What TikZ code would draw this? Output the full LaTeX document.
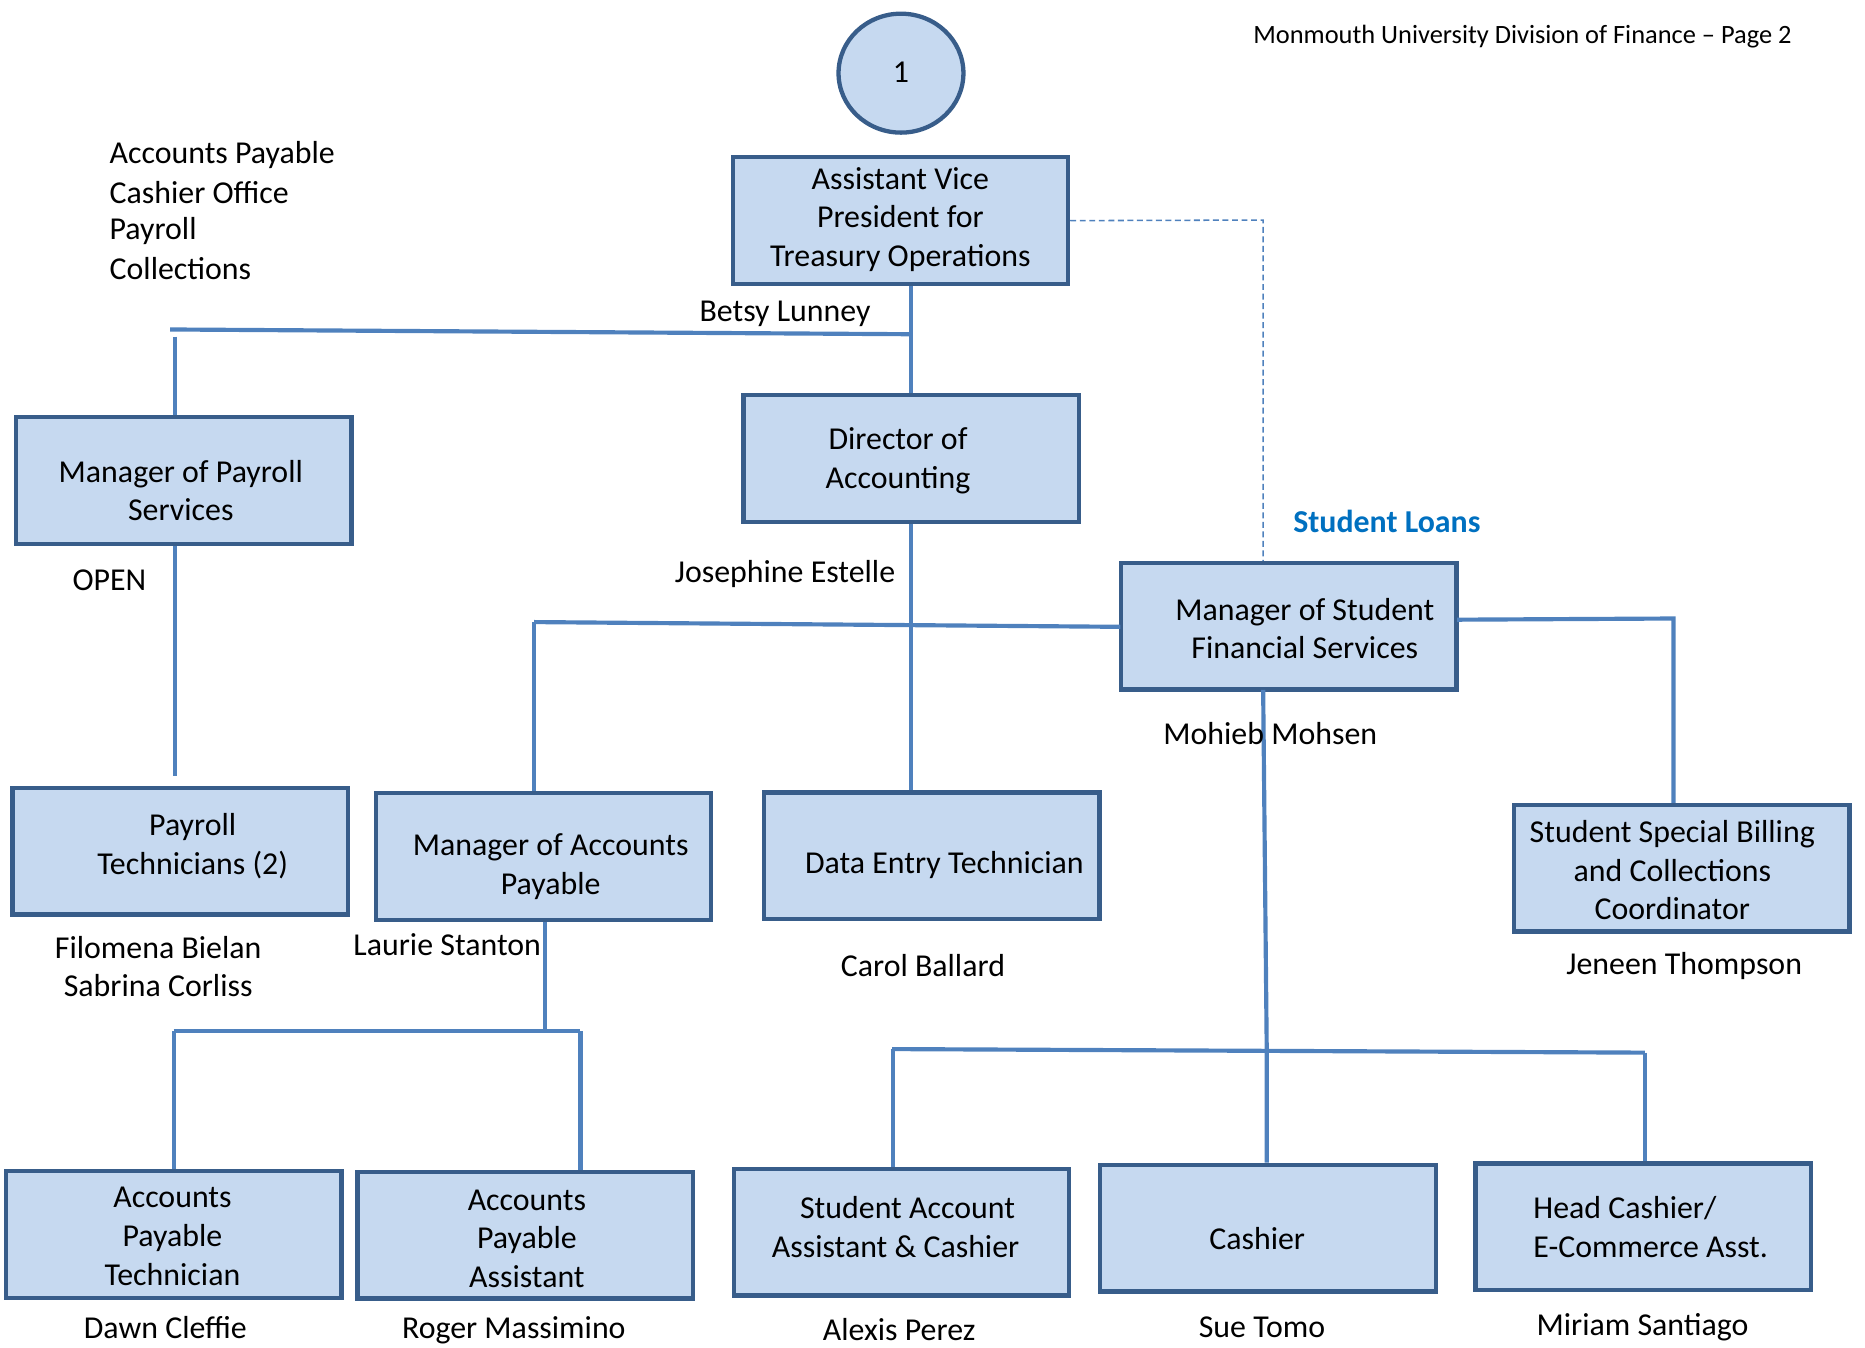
\documentclass[tikz,border=0pt]{standalone}
\usepackage{fontspec}
\setmainfont{Carlito}
\usetikzlibrary{shapes.geometric}
\definecolor{boxfill}{RGB}{198,217,240}
\definecolor{boxline}{RGB}{56,93,138}
\definecolor{conn}{RGB}{79,129,189}
\definecolor{loanblue}{RGB}{0,112,192}
\begin{document}
\begin{tikzpicture}[x=1pt,y=-1pt,
  box/.style={draw=boxline, fill=boxfill, line width=3.6pt, rectangle,
    minimum width=282pt, minimum height=106.5pt, inner sep=0pt},
  txt/.style={font=\fontsize{26.8}{32.5}\selectfont, align=center, inner sep=0pt, anchor=center},
  ltxt/.style={font=\fontsize{26.8}{32.5}\selectfont, align=left, inner sep=0pt, anchor=west},
  link/.style={draw=conn, line width=3.5pt},
  dlink/.style={draw=conn, line width=1.3pt, dash pattern=on 5pt off 3pt}]
\useasboundingbox (0,0) rectangle (1568,1133);

% header
\node[font=\fontsize{22.2}{26}\selectfont, inner sep=0pt, anchor=center] (hdr) at (1280,31) {Monmouth University Division of Finance – Page 2};
\node[ellipse, draw=boxline, fill=boxfill, line width=3.6pt, minimum width=105pt, minimum height=100pt, inner sep=0pt] (c1) at (757.5,61.5) {};
\node[txt] (c1t) at (757.5,61) {1};

% left list
\node[ltxt] (l1) at (92,130) {Accounts Payable};
\node[ltxt] (l2) at (92,162) {Cashier Office};
\node[ltxt] (l3) at (92,194) {Payroll};
\node[ltxt] (l4) at (92,226) {Collections};

% boxes
\node[box] (avp) at (757,185.5) {};
\node[box] (mps) at (154.5,404) {};
\node[box] (dir) at (766,385.5) {};
\node[box] (msfs) at (1083.5,526.5) {};
\node[box] (pt) at (151.5,715.5) {};
\node[box] (map) at (457,720) {};
\node[box] (det) at (783.5,719.5) {};
\node[box] (ssb) at (1414,730) {};
\node[box] (apt) at (146,1038) {};
\node[box] (apa) at (441.5,1038.5) {};
\node[box] (saa) at (758,1036) {};
\node[box] (cas) at (1066,1032.5) {};
\node[box] (hc) at (1381.5,1031.5) {};

% box texts
\node[txt] (avpt) at (757,184.5) {Assistant Vice\\President for\\Treasury Operations};
\node[txt] (mpst) at (152,412.5) {Manager of Payroll\\Services};
\node[txt] (dirt) at (755,387.5) {Director of\\Accounting};
\node[txt] (msfst) at (1097,528.5) {Manager of Student\\Financial Services};
\node[txt] (ptt) at (162,711.5) {Payroll\\Technicians (2)};
\node[txt] (mapt) at (463,728.5) {Manager of Accounts\\Payable};
\node[txt] (dett) at (794,727.5) {Data Entry Technician};
\node[txt] (ssbt) at (1406,731.5) {Student Special Billing\\and Collections\\Coordinator};
\node[txt] (aptt) at (145,1039.5) {Accounts\\Payable\\Technician};
\node[txt] (apat) at (443,1041.5) {Accounts\\Payable\\Assistant};
\node[txt] (saat) at (758,1031.5) {\hspace*{10pt}Student Account\\Assistant \& Cashier\hspace*{10pt}};
\node[txt] (cast) at (1057,1041.5) {Cashier};
\node[txt, align=left, anchor=west] (hct) at (1289,1031.5) {Head Cashier/\\E-Commerce Asst.};

% names
\node[txt] (n1) at (660,263.5) {Betsy Lunney};
\node[txt] (n2) at (92,487.5) {OPEN};
\node[txt] (n3) at (660,482.5) {Josephine Estelle};
\node[txt, font=\bfseries\fontsize{26.8}{32.5}\selectfont, text=loanblue] (n4) at (1166,438.5) {Student Loans};
\node[txt] (n6) at (133,812.5) {Filomena Bielan\\Sabrina Corliss};
\node[txt] (n7) at (376,794.5) {Laurie Stanton};
\node[txt] (n8) at (776,811.5) {Carol Ballard};
\node[txt] (n9) at (1416,812.5) {Jeneen Thompson};
\node[txt] (n10) at (139,1116) {Dawn Cleffie};
\node[txt] (n11) at (432,1118) {Roger Massimino};
\node[txt] (n12) at (756,1118) {Alexis Perez};
\node[txt] (n13) at (1061,1116) {Sue Tomo};
\node[txt] (n14) at (1381,1116) {Miriam Santiago};

% connector coordinates
\coordinate (j1) at (766,281);
\coordinate (j1l) at (143,277);
\coordinate (pa) at (147,283);
\coordinate (j2) at (766,523);
\coordinate (j2l) at (449,523);
\coordinate (j2r) at (942,527);
\coordinate (j3l) at (1225,521);
\coordinate (j3) at (1407,520);
\coordinate (mb) at (1062,580);
\coordinate (j4) at (1065,883);
\coordinate (j4l) at (750,882);
\coordinate (j4la) at (751,882);
\coordinate (j4r) at (1383,885);
\coordinate (j5) at (458,867);
\coordinate (j5l) at (146,867);
\coordinate (j5r) at (488,867);
\coordinate (pend) at (147,652);
\coordinate (dj) at (1062,185);

% connectors
\draw[link] (avp.south -| j1) -- (j1) -- (dir.north -| j1);
\draw[link] (j1) -- (j1l);
\draw[link] (pa) -- (mps.north -| pa);
\draw[link] (mps.south -| pend) -- (pend);
\draw[link] (dir.south -| j2) -- (j2) -- (det.north -| j2);
\draw[link] (j2l) -- (j2r);
\draw[link] (j2l) -- (map.north -| j2l);
\draw[link] (j3l) -- (j3) -- (ssb.north -| j3);
\draw[link] (mb) -- (j4) -- (cas.north -| j4);
\draw[link] (j4l) -- (j4r);
\draw[link] (j4la) -- (saa.north -| j4la);
\draw[link] (j4r) -- (hc.north -| j4r);
\draw[link] (map.south -| j5) -- (j5);
\draw[link] (j5l) -- (j5r);
\draw[link] (j5l) -- (apt.north -| j5l);
\draw[link] (j5r) -- (apa.north -| j5r);
\draw[dlink] (avp.east) -- (dj) -- (msfs.north -| dj);

\node[txt] (n5) at (1068,616.5) {Mohieb Mohsen};
\end{tikzpicture}
\end{document}
